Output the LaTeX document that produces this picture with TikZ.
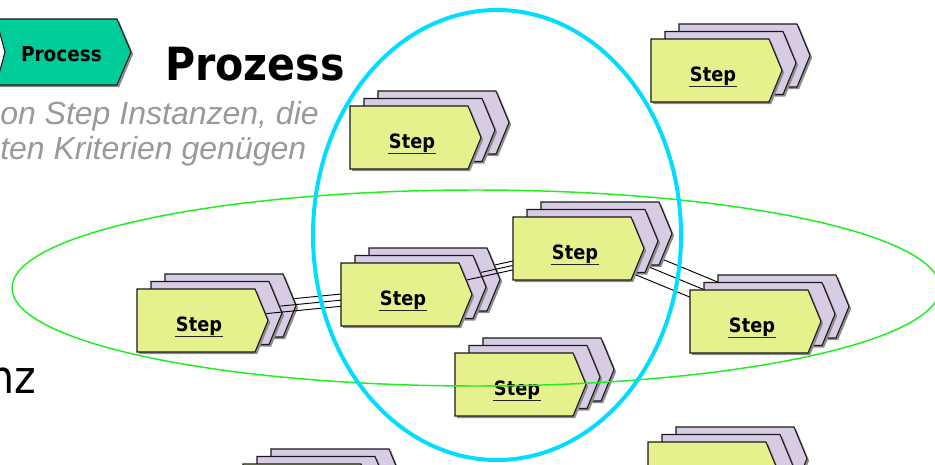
\documentclass[tikz,border=0pt]{standalone}
\usepackage{fontspec}
\usepackage{tikz}
\usetikzlibrary{shadows}
\newfontfamily\stepfont{DejaVu Sans Condensed}
\newfontfamily\notefont{Liberation Sans}
\definecolor{stepyellow}{RGB}{230,240,140}
\definecolor{steppurple}{RGB}{216,204,228}
\definecolor{procgreen}{RGB}{0,204,153}
\definecolor{ringcyan}{RGB}{0,221,255}
\definecolor{ringgreen}{RGB}{30,240,30}
\definecolor{notegray}{RGB}{153,153,153}
\tikzstyle{steplayer}=[rectangle, inner sep=0pt, outer sep=0pt, minimum width=88.5pt, minimum height=47.25pt, anchor=north west]
\tikzstyle{stepshape}=[draw=black!90, line width=0.8pt, drop shadow={shadow xshift=1.6pt, shadow yshift=-1.6pt, fill=black!45, opacity=1}]
\tikzstyle{link}=[draw, line width=0.7pt]
\tikzstyle{steplabel}=[inner sep=0pt, anchor=base, font=\stepfont\bfseries\fontsize{14.8}{16}\selectfont]
\tikzstyle{uline}=[line width=1.1pt, black!85]
\tikzstyle{procbox}=[rectangle, inner sep=0pt, outer sep=0pt, minimum width=90.75pt, minimum height=49.5pt]
\tikzstyle{procshape}=[stepshape, fill=procgreen]
\tikzstyle{proclabel}=[inner sep=0pt, anchor=base, font=\stepfont\bfseries\fontsize{15.4}{17}\selectfont]
\tikzstyle{title}=[inner sep=0pt, font=\stepfont\bfseries\fontsize{34.3}{38}\selectfont]
\tikzstyle{big}=[inner sep=0pt, font=\stepfont\fontsize{34.3}{38}\selectfont]
\tikzstyle{note}=[inner sep=0pt, text=notegray, font=\notefont\itshape\fontsize{24}{26}\selectfont]

\begin{document}
\begin{tikzpicture}[x=0.75pt, y=-0.75pt]
	\useasboundingbox (0,0) rectangle (935,464);
	\clip (0,0) rectangle (935,464);
	% step instances: name/left/top of the front box
	\foreach \n/\x/\y in {a/651/39, b/350/106, c/513/217, d/341/263, e/137/289, f/690/290, g/455/353, h/648/442, i/243/464}{
		\node[steplayer] (\n3) at (\x+28,\y-15) {};
		\node[steplayer] (\n2) at (\x+14,\y-7.5) {};
		\node[steplayer] (\n1) at (\x,\y) {};
	}
	%--------------------
	\foreach \k/\col in {3/steppurple, 2/steppurple, 1/stepyellow}{
		\draw[link] (e\k.center) -- ([yshift=-4.5pt]d\k.center);
		\draw[link] (d\k.center) -- ([yshift=-6.4pt]c\k.center);
		\draw[link] (c\k.center) -- (f\k.center);
		\foreach \n in {a,b,c,d,e,f,g,h,i}
			\path[stepshape, fill=\col] (\n\k.north west) -- (\n\k.north east) -- ([xshift=9.75pt]\n\k.east) -- (\n\k.south east) -- (\n\k.south west) -- cycle;
	}
	\foreach \n in {a,b,c,d,e,f,g}{
		\node[steplabel] (t\n) at ([xshift=2.25pt, yshift=-7.9pt]\n1.center) {Step};
		\draw[uline] ([xshift=-0.75pt, yshift=-4.1pt]t\n.base west) -- ([xshift=0.75pt, yshift=-4.1pt]t\n.base east);
	}
	%--------------------
	\node[procbox] (proc) at (56.5,52) {};
	\path[procshape] (proc.north west) -- (proc.north east) -- ([xshift=10.5pt]proc.east) -- (proc.south east) -- (proc.south west) -- ([xshift=6.75pt]proc.west) -- cycle;
	\node[proclabel] (proctext) at (61.5,61) {Process};
	\node[title, anchor=base west] (prozess) at (165,80) {Prozess};
	\node[note, anchor=base west] (note1) at (0,124) {on Step Instanzen, die};
	\node[note, anchor=base west] (note2) at (0,159) {ten Kriterien genügen};
	\node[big, anchor=base east] (inst) at (36,393) {nz};
	%--------------------
	\draw[ringgreen, line width=1.1pt] (476,288) ellipse [x radius=464, y radius=98];
	\draw[ringcyan, line width=3pt] (497,235) ellipse [x radius=184, y radius=225];
\end{tikzpicture}
\end{document}
